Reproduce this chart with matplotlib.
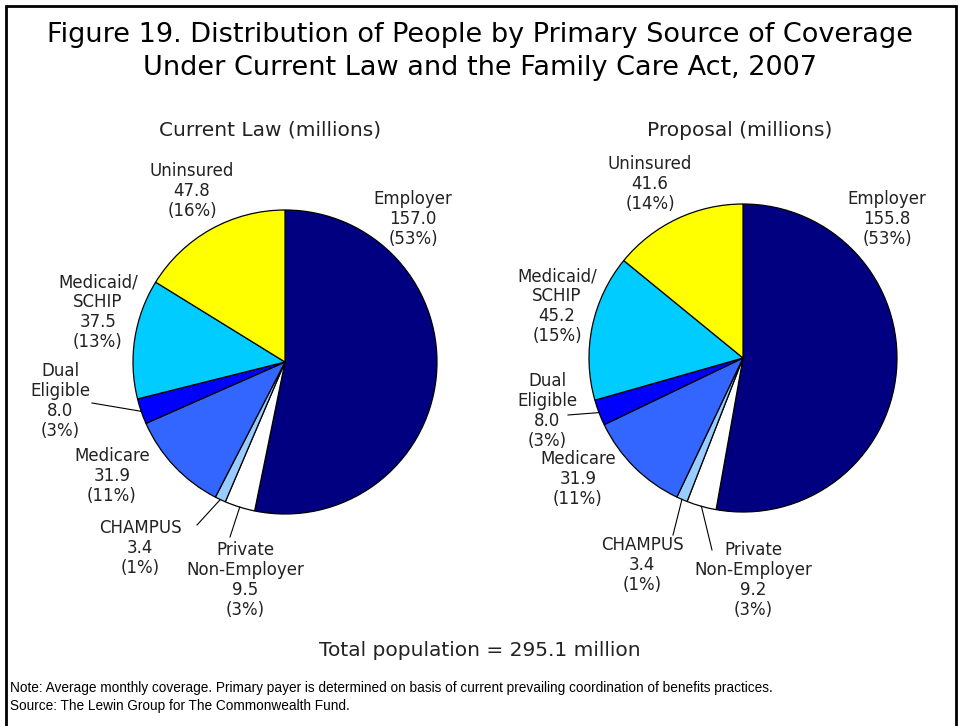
#!/usr/bin/env python3
"""Figure 19: primary source of coverage, current law vs. Family Care Act, 2007."""

import matplotlib
matplotlib.use("Agg")
import matplotlib.pyplot as plt
import numpy as np

W, H = 960, 726

# data (millions)
categories = ["Employer", "Private\nNon-Employer", "CHAMPUS", "Medicare",
              "Dual\nEligible", "Medicaid/\nSCHIP", "Uninsured"]
current_law = [157.0, 9.5, 3.4, 31.9, 8.0, 37.5, 47.8]
proposal = [155.8, 9.2, 3.4, 31.9, 8.0, 45.2, 41.6]
current_pct = [53, 3, 1, 11, 3, 13, 16]
proposal_pct = [53, 3, 1, 11, 3, 15, 14]
colors = ["#000080", "#FFFFFF", "#99CCFF", "#3366FF", "#0000FF", "#00CCFF", "#FFFF00"]

TEXT = "#222222"


def py(y):
    """pixel y (top-down) -> data y (bottom-up)"""
    return H - y


def draw_pie(ax, values, pcts, cx, cy, r, label_pos, leaders):
    wedges, _ = ax.pie(values, colors=colors, startangle=90, counterclock=False,
                       center=(cx, py(cy)), radius=r,
                       wedgeprops=dict(edgecolor="black", linewidth=0.9))
    for name, val, pct, (lx, ly) in zip(categories, values, pcts, label_pos):
        ax.text(lx, py(ly), f"{name}\n{val:.1f}\n({pct}%)", ha="center", va="center",
                fontsize=12, color=TEXT, linespacing=1.13)
    # leader lines from label to the wedge edge at its mid angle
    for idx, (ox, oy) in leaders.items():
        w = wedges[idx]
        theta = np.deg2rad((w.theta1 + w.theta2) / 2)
        ex = cx + r * np.cos(theta)
        ey = py(cy) + r * np.sin(theta)
        ax.plot([ox, ex], [py(oy), ey], color="black", linewidth=0.8)


fig = plt.figure(figsize=(W / 100, H / 100), dpi=100)
ax = fig.add_axes([0, 0, 1, 1])

# Current law
draw_pie(ax, current_law, current_pct, 285, 362, 152,
         [(413, 219), (245, 580), (140, 548), (112, 476), (60, 401), (98, 312), (192, 191)],
         {1: (230, 537), 2: (197, 525), 4: (92, 403)})

# Proposal
draw_pie(ax, proposal, proposal_pct, 743, 358, 154,
         [(887, 219), (753, 580), (642, 565), (578, 479), (547, 411), (557, 306), (650, 184)],
         {1: (712, 550), 2: (673, 535), 4: (568, 415)})

ax.set_xlim(0, W)
ax.set_ylim(0, H)
ax.set_aspect("auto")
ax.axis("off")

# titles
ax.text(W / 2, py(35), "Figure 19. Distribution of People by Primary Source of Coverage",
        ha="center", va="center", fontsize=19.5, color="black")
ax.text(W / 2, py(68), "Under Current Law and the Family Care Act, 2007",
        ha="center", va="center", fontsize=19.5, color="black")
ax.text(270, py(130), "Current Law (millions)", ha="center", va="center",
        fontsize=14.5, color=TEXT)
ax.text(740, py(130), "Proposal (millions)", ha="center", va="center",
        fontsize=14.5, color=TEXT)
ax.text(W / 2, py(650), "Total population = 295.1 million", ha="center", va="center",
        fontsize=14.5, color=TEXT)

# notes
ax.text(10, py(688), "Note: Average monthly coverage. Primary payer is determined on basis "
        "of current prevailing coordination of benefits practices.",
        ha="left", va="center", fontsize=9.8, family="Liberation Sans", color="black")
ax.text(10, py(706), "Source: The Lewin Group for The Commonwealth Fund.",
        ha="left", va="center", fontsize=9.8, family="Liberation Sans", color="black")

# frame (open at the bottom)
ax.plot([6, 6, 956, 956], [0, py(6), py(6), 0], color="black", linewidth=2,
        clip_on=False, solid_joinstyle="miter")

fig.savefig("out.png", dpi=100)
plt.close(fig)
